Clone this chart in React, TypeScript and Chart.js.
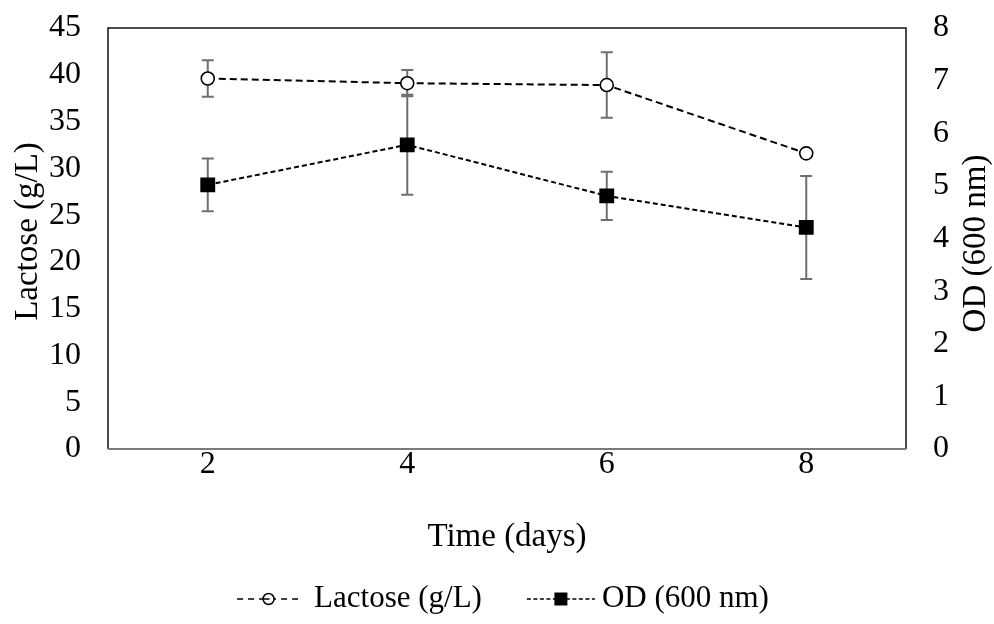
import React, { useEffect, useRef } from "react";
import { Chart, registerables } from "chart.js";

Chart.register(...registerables);

const categories = ["2", "4", "6", "8"];
const lactose = [39.6, 39.1, 38.9, 31.6];
const lactoseErr = [1.95, 1.4, 3.5, 0.3];
const od = [5.02, 5.78, 4.81, 4.21];
const odErr = [0.5, 0.95, 0.46, 0.98];
const leftTicks = [0, 45, 5];
const rightTicks = [0, 8, 1];
const xTitle = "Time (days)";
const leftTitle = "Lactose (g/L)";
const rightTitle = "OD (600 nm)";

const FONT = "'Liberation Serif', 'Times New Roman', serif";
const TICK_FS = 32;
const TITLE_FS = 33;
const LEGEND_FS = 31;

const errorBarPlugin = {
  id: "errorBars",
  beforeDatasetsDraw(chart: any) {
    const ctx = chart.ctx;
    const sets = [
      { scale: chart.scales.y, vals: lactose, errs: lactoseErr },
      { scale: chart.scales.y1, vals: od, errs: odErr },
    ];
    ctx.save();
    ctx.strokeStyle = "#6f6f6f";
    ctx.lineWidth = 2;
    sets.forEach((s) => {
      s.vals.forEach((v, i) => {
        const x = chart.scales.x.getPixelForValue(i);
        const yt = s.scale.getPixelForValue(v + s.errs[i]);
        const yb = s.scale.getPixelForValue(v - s.errs[i]);
        ctx.beginPath();
        ctx.moveTo(x, yt);
        ctx.lineTo(x, yb);
        ctx.moveTo(x - 6, yt);
        ctx.lineTo(x + 6, yt);
        ctx.moveTo(x - 6, yb);
        ctx.lineTo(x + 6, yb);
        ctx.stroke();
      });
    });
    ctx.restore();
  },
};

const framePlugin = {
  id: "frame",
  afterDraw(chart: any) {
    const { ctx, chartArea: a } = chart;
    ctx.save();
    ctx.strokeStyle = "#111";
    ctx.lineWidth = 1.5;
    ctx.beginPath();
    ctx.moveTo(a.left, a.bottom);
    ctx.lineTo(a.left, a.top);
    ctx.lineTo(a.right, a.top);
    ctx.lineTo(a.right, a.bottom);
    ctx.stroke();
    ctx.strokeStyle = "#7a7a7a";
    ctx.lineWidth = 2;
    ctx.beginPath();
    ctx.moveTo(a.left, a.bottom);
    ctx.lineTo(a.right, a.bottom);
    ctx.stroke();

    // axis titles, both reading bottom-to-top
    const midY = (a.top + a.bottom) / 2;
    ctx.fillStyle = "#000";
    ctx.font = `${TITLE_FS}px ${FONT}`;
    ctx.textAlign = "center";
    ctx.textBaseline = "middle";
    ctx.save();
    ctx.translate(chart.scales.y.left + 28, midY - 7);
    ctx.rotate(-Math.PI / 2);
    ctx.fillText(leftTitle, 0, 0);
    ctx.restore();
    ctx.save();
    ctx.translate(chart.scales.y1.right - 18, midY + 5);
    ctx.rotate(-Math.PI / 2);
    ctx.fillText(rightTitle, 0, 0);
    ctx.restore();

    // legend
    const labels = chart.data.datasets.map((d: any) => d.label);
    ctx.font = `${LEGEND_FS}px ${FONT}`;
    ctx.textAlign = "left";
    const w1 = ctx.measureText(labels[0]).width;
    const w2 = ctx.measureText(labels[1]).width;
    const img1 = 63, img2 = 68, g1 = 14, g2 = 7, gap = 45;
    const total = img1 + g1 + w1 + gap + img2 + g2 + w2;
    const cy = 599;
    let x = 503 - total / 2;
    ctx.strokeStyle = "#000";
    ctx.lineWidth = 1.5;
    ctx.setLineDash([6, 5]);
    ctx.beginPath();
    ctx.moveTo(x, cy);
    ctx.lineTo(x + img1, cy);
    ctx.stroke();
    ctx.setLineDash([]);
    ctx.fillStyle = "#fff";
    ctx.beginPath();
    ctx.arc(x + img1 / 2, cy, 5.5, 0, Math.PI * 2);
    ctx.fill();
    ctx.stroke();
    ctx.beginPath();
    ctx.moveTo(x + img1 / 2 - 5, cy);
    ctx.lineTo(x + img1 / 2 + 1, cy);
    ctx.stroke();
    ctx.fillStyle = "#000";
    ctx.fillText(labels[0], x + img1 + g1, cy);
    x += img1 + g1 + w1 + gap;
    ctx.setLineDash([4, 2.5]);
    ctx.beginPath();
    ctx.moveTo(x, cy);
    ctx.lineTo(x + img2, cy);
    ctx.stroke();
    ctx.setLineDash([]);
    ctx.fillRect(x + img2 / 2 - 6.5, cy - 6.5, 13, 13);
    ctx.fillText(labels[1], x + img2 + g2, cy);
    ctx.restore();
  },
};

export default function App() {
  const ref = useRef<HTMLCanvasElement>(null);
  useEffect(() => {
    const chart = new Chart(ref.current!, {
      type: "line",
      data: {
        labels: categories,
        datasets: [
          {
            label: leftTitle,
            data: lactose,
            yAxisID: "y",
            borderColor: "#000",
            borderWidth: 2,
            borderDash: [7, 4],
            pointStyle: "circle",
            pointRadius: 6.5,
            pointBorderWidth: 1.6,
            pointBackgroundColor: "#fff",
            pointBorderColor: "#000",
            tension: 0,
          },
          {
            label: rightTitle,
            data: od,
            yAxisID: "y1",
            borderColor: "#000",
            borderWidth: 2,
            borderDash: [5, 3],
            pointStyle: "rect",
            pointRadius: 10.5,
            pointBorderWidth: 0,
            pointBackgroundColor: "#000",
            pointBorderColor: "#000",
            tension: 0,
          },
        ],
      },
      options: {
        animation: false,
        responsive: false,
        layout: { padding: { top: 28, left: 0, right: 0, bottom: 70 } },
        plugins: {
          tooltip: { enabled: false },
          legend: { display: false },
        },
        scales: {
          x: {
            offset: true,
            grid: { display: false, drawTicks: false },
            border: { display: false },
            ticks: { color: "#000", font: { family: FONT, size: TICK_FS }, padding: -4 },
            title: {
              display: true,
              text: xTitle,
              color: "#000",
              font: { family: FONT, size: TITLE_FS },
              padding: { top: 0, bottom: -3 },
            },
            afterFit: (s: any) => {
              s.height = 105;
              s.paddingLeft = 0;
              s.paddingRight = 0;
            },
          },
          y: {
            position: "left",
            min: leftTicks[0],
            max: leftTicks[1],
            grid: { display: false, drawTicks: false },
            border: { display: false },
            ticks: { stepSize: leftTicks[2], color: "#000", font: { family: FONT, size: TICK_FS }, padding: 27 },
            afterFit: (s: any) => {
              s.width = 108;
              s.paddingTop = 0;
              s.paddingBottom = 0;
            },
          },
          y1: {
            position: "right",
            min: rightTicks[0],
            max: rightTicks[1],
            grid: { display: false, drawTicks: false },
            border: { display: false },
            ticks: { stepSize: rightTicks[2], color: "#000", font: { family: FONT, size: TICK_FS }, padding: 27 },
            afterFit: (s: any) => {
              s.width = 88;
              s.paddingTop = 0;
              s.paddingBottom = 0;
            },
          },
        },
      } as any,
      plugins: [errorBarPlugin, framePlugin],
    });
    return () => chart.destroy();
  }, []);
  return (
    <div style={{ position: "fixed", left: 0, top: 0, width: 994, height: 624, background: "#fff" }}>
      <canvas ref={ref} width={994} height={624} style={{ width: 994, height: 624 }} />
    </div>
  );
}
